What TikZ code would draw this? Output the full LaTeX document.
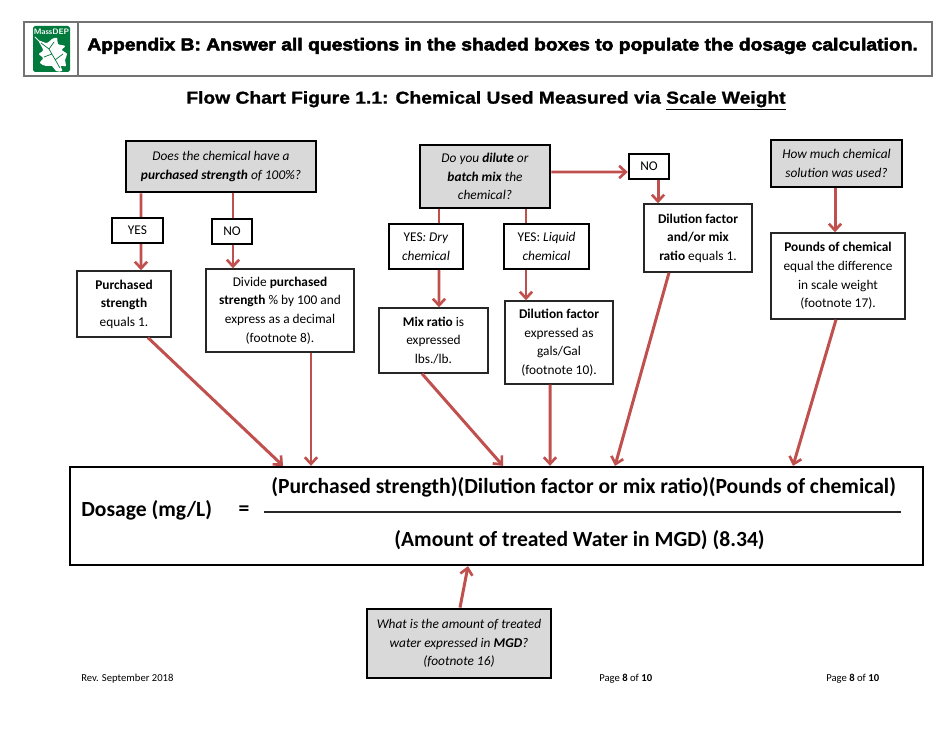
\documentclass[tikz,border=0pt]{standalone}
\usepackage{fontspec}
\setmainfont{Carlito}
\newfontfamily\headfont[UprightFont=* Bold,FakeBold=3,FakeStretch=1.12]{Liberation Sans}
\newfontfamily\titlefont[UprightFont=* Bold,FakeBold=1.2,FakeStretch=1.12]{Liberation Sans}
\usepackage{tikz}
\usetikzlibrary{arrows.meta,calc,shadows}
\definecolor{flowred}{HTML}{C0504D}
\definecolor{depgreen}{HTML}{007A3D}

\begin{document}
\begin{tikzpicture}[
    x=0.02cm, y=-0.02cm,
    wh/.style 2 args={minimum width=#1*0.02cm, minimum height=#2*0.02cm},
    soft/.style={drop shadow={shadow xshift=0.6pt, shadow yshift=-0.6pt, opacity=.25, fill=black}},
    info/.style={draw=black!85, line width=0.8pt, fill=white, soft, align=center, inner sep=0pt, font=\fontsize{7.6}{10.55}\selectfont},
    pick/.style={info, draw=black, line width=1.4pt},
    ask/.style={pick, line width=1.6pt, fill=black!15},
    plain/.style={inner sep=0pt, align=center},
    flow/.style={line width=1.7pt, draw=flowred},
    arrow/.style={flow, -{Straight Barb[length=3.8pt, width=7pt, line width=1.5pt]}},
    dosetext/.style={plain, font=\fontsize{12.3}{15}\selectfont\bfseries},
    foot/.style={plain, font=\fontsize{6.05}{7}\selectfont}
  ]
    \useasboundingbox (0,0) rectangle (950,733);

    % header
    \node[draw=black!55, line width=0.6pt, wh={908}{54}, soft, fill=white] (head) at (478,49) {};
    \node[draw=black!55, line width=0.6pt, wh={54}{54}, fill=white] (logo) at (51,49) {};
    \fill[depgreen, rounded corners=1pt] (33,26) rectangle (70,72);
    \node[plain, text=white, font=\fontsize{4.5}{5}\selectfont\sffamily\bfseries] (dep) at (51.5,32) {MassDEP};
    \fill[white] plot[smooth cycle, tension=.6] coordinates {(39,41) (47,43) (52,39) (57,38) (58,44) (65,46) (62,50) (67,54) (65,60) (66,66) (61,66) (62,71) (56,71) (52,66) (46,66) (40,63) (43,58) (39,54) (43,50)};
    \draw[white, line width=0.5pt] (35,37) -- (41,43);
    \draw[depgreen, line width=0.4pt] (41,43) -- (49,49) -- (60,68) (49,49) -- (54,42) (52,54) -- (44,57) (55,60) -- (63,54);
    \node[plain, anchor=west, font=\headfont\fontsize{9.8}{12}\selectfont] (apx) at (87,46) {Appendix B: Answer all questions in the shaded boxes to populate the dosage calculation.};
    \node[plain, anchor=west, font=\titlefont\fontsize{9.78}{12}\selectfont] (title) at (186,101) {Flow Chart Figure 1.1: Chemical Used Measured via \underline{Scale Weight}};

    % strength branch
    \node[ask, wh={190}{51}] (q1) at (221,166.5) {\textit{Does the chemical have a}\\\textit{\textbf{purchased strength} of 100\%?}};
    \node[pick, wh={51}{25}] (yes1) at (137.5,230.5) {YES};
    \node[pick, wh={40}{25}] (no1) at (232,231.5) {NO};
    \node[info, wh={94}{66}] (pur) at (124,304) {\textbf{Purchased}\\\textbf{strength}\\equals 1.};
    \node[info, wh={148}{83}] (div) at (280,310.5) {Divide \textbf{purchased}\\\textbf{strength} \% by 100 and\\express as a decimal\\(footnote 8).};

    % dilution branch
    \node[ask, wh={130}{63}] (q2) at (485,176.5) {\textit{Do you \textbf{dilute} or}\\\textit{\textbf{batch mix} the}\\\textit{chemical?}};
    \node[pick, wh={40}{25}] (no2) at (649,166.5) {NO};
    \node[pick, wh={74}{45}] (dry) at (426,246.5) {YES\textit{: Dry}\\\textit{chemical}};
    \node[pick, wh={85}{45}] (liq) at (546.5,246.5) {YES: \textit{Liquid}\\\textit{chemical}};
    \node[info, wh={109}{65}] (mix) at (433.5,340.5) {\textbf{Mix ratio} is\\expressed\\lbs./lb.};
    \node[info, wh={108}{83}] (fac) at (559,342.5) {\textbf{Dilution factor}\\expressed as\\gals/Gal\\(footnote 10).};
    \node[info, wh={108}{68}] (one) at (698,238) {\textbf{Dilution factor}\\\textbf{and/or mix}\\\textbf{ratio} equals 1.};

    % weight branch
    \node[ask, wh={131}{47}] (q3) at (836.5,163.5) {\textit{How much chemical}\\\textit{solution was used?}};
    \node[info, wh={134}{86}] (lbs) at (838,276) {\textbf{Pounds of chemical}\\equal the difference\\in scale weight\\(footnote 17).};

    % dosage equation
    \node[draw=black, line width=1.3pt, fill=white, wh={853}{98}, soft] (dose) at (496.5,516) {};
    \node[dosetext, anchor=west] (lhs) at (81,510) {Dosage (mg/L)};
    \node[dosetext] (eq) at (244,511) {=};
    \node[dosetext, anchor=west] (top) at (271,487) {(Purchased strength)(Dilution factor or mix ratio)(Pounds of chemical)};
    \node[dosetext, anchor=west] (bot) at (394,540.5) {(Amount of treated Water in MGD) (8.34)};
    \coordinate (fracl) at (264,512);
    \coordinate (fracr) at (901,512);
    \draw[line width=1.3pt, black!85] (fracl) -- (fracr);

    \node[ask, wh={184}{69}] (q4) at (459,643.5) {\textit{What is the amount of treated}\\\textit{water expressed in \textbf{MGD}?}\\\textit{(footnote 16)}};

    % footer
    \node[foot, anchor=west] (rev) at (81,678.5) {Rev. September 2018};
    \node[foot, anchor=west] (pg1) at (599,678.5) {Page \textbf{8} of \textbf{10}};
    \node[foot, anchor=west] (pg2) at (826,678.5) {Page \textbf{8} of \textbf{10}};

    % connectors
    \draw[flow] ($(q1.south)+(-80,0)$) -- ($(yes1.north)+(3.5,0)$);
    \draw[arrow] ($(yes1.south)+(3.5,0)$) -- ($(pur.north)+(17,0)$);
    \draw[flow] ($(q1.south)+(12,0)$) -- ($(no1.north)+(1,0)$);
    \draw[arrow] ($(no1.south)+(1,0)$) -- ($(div.north)+(-47,0)$);
    \draw[arrow] ($(pur.south)+(24,0)$) -- ($(dose.north)+(-213.5,0)$);
    \draw[arrow] ($(div.south)+(31,0)$) -- ($(dose.north)+(-185.5,0)$);

    \draw[flow] ($(q2.south)+(-46,0)$) -- ($(dry.north)+(13,0)$);
    \draw[arrow] ($(dry.south)+(13,0)$) -- ($(mix.north)+(5.5,0)$);
    \draw[flow] ($(q2.south)+(41,0)$) -- ($(liq.north)+(-20.5,0)$);
    \draw[arrow] ($(liq.south)+(-20.5,0)$) -- ($(fac.north)+(-33,0)$);
    \draw[arrow] ($(q2.east)+(0,-4.5)$) -- ($(no2.west)+(0,5.5)$);
    \draw[arrow] ($(no2.south)+(9,0)$) -- ($(one.north)+(-40,0)$);
    \draw[arrow] ($(mix.south)+(-11.5,0)$) -- ($(dose.north)+(6.5,0)$);
    \draw[arrow] ($(fac.south)+(-9,0)$) -- ($(dose.north)+(53.5,0)$);
    \draw[arrow] ($(one.south)+(-29,0)$) -- ($(dose.north)+(118.5,0)$);

    \draw[arrow] ($(q3.south)+(-1.5,0)$) -- ($(lbs.north)+(-3,0)$);
    \draw[arrow] ($(lbs.south)+(-2,0)$) -- ($(dose.north)+(296.5,0)$);

    \draw[arrow] ($(q4.north)+(1,0)$) -- ($(dose.south)+(-28.5,0)$);
  \end{tikzpicture}
\end{document}
